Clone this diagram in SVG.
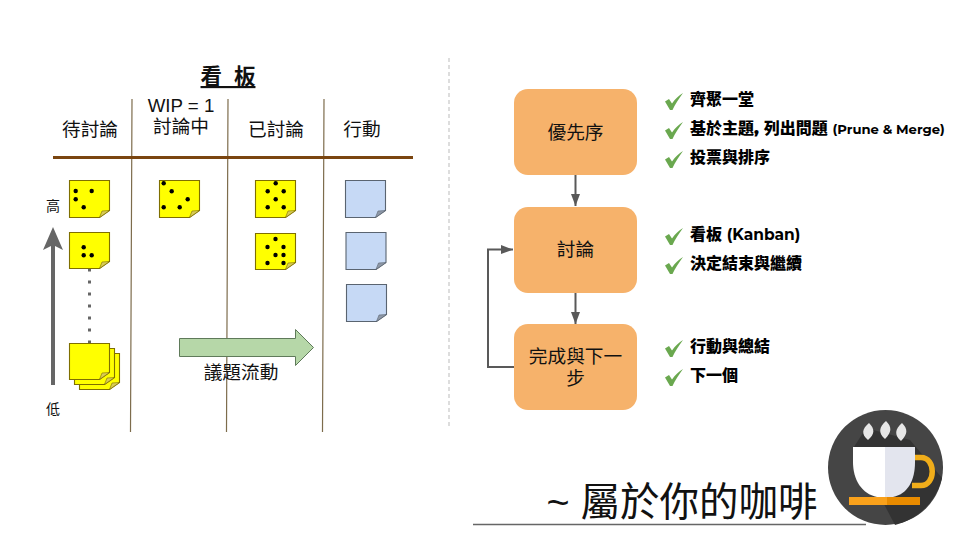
<svg xmlns="http://www.w3.org/2000/svg" width="960" height="540" viewBox="0 0 960 540">
<style>
text{font-family:"Liberation Sans","Noto Sans CJK TC",sans-serif;fill:#111;text-anchor:middle}
.k{font-size:18.700px}
.b{font-family:"Montserrat","Noto Sans CJK TC","Liberation Sans",sans-serif;font-size:16px;font-weight:900;text-anchor:start;fill:#000}
.l{font-weight:700}
.col{stroke:#7d6c4c;stroke-width:1.200;fill:none}
.y{fill:#ffff00;stroke:#7f6f00;stroke-width:1.100}
.bl{fill:#c6d9f5;stroke:#5a6470;stroke-width:1.100}
.fy{fill:#d8cc55;stroke:#7f6f00;stroke-width:.6}
.fb{fill:#8f99a8;stroke:#5a6470;stroke-width:.6}
.d{fill:#000}
.n{fill:#f6b26b}
.c{fill:none;stroke:#595959;stroke-width:2}
</style>
<defs>
<marker id="ah" markerUnits="userSpaceOnUse" markerWidth="12" markerHeight="12" refX="12" refY="6" orient="auto"><path d="M0,1.500 L12,6 L0,10.500 Z" fill="#595959"/></marker>
<path id="ny" d="M0,0 H40 V30 L30,37 H0 Z"/>
<path id="ny2" d="M0,0 H40 V29 L30,36 H0 Z"/>
<path id="check" d="M0,8.500 L4,6 L7,10.500 C10,6 14,2.500 18,0 C14,6 10,11 7.500,17 L5,17 Z" fill="#6aa84f"/>
</defs>
<g id="title"><text x="228" y="84" style="font-size:21.500px;font-weight:700;text-decoration:underline" xml:space="preserve">看  板</text></g>
<g id="board-lines">
<path class="col" d="M132,99L130.500,432M228,99L226.500,432M324,99L322.500,432"/>
<path d="M53,157.500H413" stroke="#7a4510" stroke-width="3" fill="none"/>
<path d="M449,58V428" stroke="#bbb" stroke-width="1" stroke-dasharray="4 3" fill="none"/>
</g>
<g id="headers">
<text class="k" x="90" y="136">待討論</text>
<text class="k" x="181" y="112">WIP = 1</text>
<text class="k" x="181" y="133">討論中</text>
<text class="k" x="276" y="136">已討論</text>
<text class="k" x="362" y="136">行動</text>
</g>
<g id="priority">
<path d="M53,385V238" stroke="#666" stroke-width="4" fill="none"/>
<path d="M43,250L53,227L63,250L53,245Z" fill="#666"/>
<text x="53" y="211" style="font-size:14px">高</text>
<text x="53" y="414" style="font-size:14px">低</text>
<path d="M89.500,268.500V343" stroke="#666" stroke-width="3" stroke-dasharray="3 9" fill="none"/>
</g>
<g id="note-a1"><use href="#ny" x="69.500" y="180.500" class="y"/><path class="fy" d="M109.500,210.500L99.500,217.500L102,211Z"/><circle class="d" cx="75.700" cy="191" r="2.200"/><circle class="d" cx="91.700" cy="191" r="2.200"/><circle class="d" cx="75.700" cy="199.300" r="2.200"/><circle class="d" cx="83.700" cy="207.300" r="2.200"/></g>
<g id="note-a2"><use href="#ny2" x="69.500" y="232.500" class="y"/><path class="fy" d="M109.500,261.500L99.500,268.500L102,262Z"/><circle class="d" cx="83.700" cy="247.300" r="2.200"/><circle class="d" cx="83.700" cy="255.300" r="2.200"/><circle class="d" cx="91.700" cy="255.300" r="2.200"/></g>
<g id="note-stack">
<use href="#ny2" x="79.500" y="353.500" class="y"/><path class="fy" d="M119.500,382.500L109.500,389.500L112,383Z"/>
<use href="#ny2" x="74.500" y="348.500" class="y"/><path class="fy" d="M114.500,377.500L104.500,384.500L107,378Z"/>
<use href="#ny2" x="69.500" y="343.500" class="y"/><path class="fy" d="M109.500,372.500L99.500,379.500L102,373Z"/>
</g>
<g id="note-b1"><use href="#ny" x="159.500" y="180.500" class="y"/><path class="fy" d="M199.500,210.500L189.500,217.500L192,211Z"/><circle class="d" cx="163.700" cy="183.300" r="2.200"/><circle class="d" cx="171.700" cy="191.300" r="2.200"/><circle class="d" cx="187.700" cy="199.300" r="2.200"/><circle class="d" cx="163.700" cy="207.300" r="2.200"/><circle class="d" cx="179.700" cy="207.300" r="2.200"/></g>
<g id="note-c1"><use href="#ny" x="255.500" y="180.500" class="y"/><path class="fy" d="M295.500,210.500L285.500,217.500L288,211Z"/><circle class="d" cx="275.700" cy="183.300" r="2.200"/><circle class="d" cx="267.700" cy="191.300" r="2.200"/><circle class="d" cx="283.700" cy="191.300" r="2.200"/><circle class="d" cx="275.700" cy="199.300" r="2.200"/><circle class="d" cx="267.700" cy="207.300" r="2.200"/><circle class="d" cx="283.700" cy="207.300" r="2.200"/></g>
<g id="note-c2"><use href="#ny2" x="255.500" y="233.500" class="y"/><path class="fy" d="M295.500,262.500L285.500,269.500L288,263Z"/><circle class="d" cx="275.500" cy="239" r="2.200"/><circle class="d" cx="267.500" cy="247" r="2.200"/><circle class="d" cx="283.500" cy="247" r="2.200"/><circle class="d" cx="275.500" cy="255" r="2.200"/><circle class="d" cx="283.500" cy="255" r="2.200"/><circle class="d" cx="267.500" cy="263" r="2.200"/><circle class="d" cx="283.500" cy="263" r="2.200"/></g>
<g id="note-d1"><use href="#ny" x="345.500" y="180.500" class="bl"/><path class="fb" d="M385.500,210.500L375.500,217.500L378,211Z"/></g>
<g id="note-d2"><use href="#ny" x="346" y="232.500" class="bl"/><path class="fb" d="M386,262.500L376,269.500L378.500,263Z"/></g>
<g id="note-d3"><use href="#ny" x="346.500" y="284.500" class="bl"/><path class="fb" d="M386.500,314.500L376.500,321.500L379,315Z"/></g>
<g id="flow-arrow">
<path d="M179.500,338.500H295.500V329.500L313.500,347.500L295.500,365.500V356.500H179.500Z" fill="#b6d7a8" stroke="#5f7a5a" stroke-width="1"/>
<text class="k" x="241" y="379">議題流動</text>
</g>
<g id="connectors">
<path class="c" d="M575.500,175V206" marker-end="url(#ah)"/>
<path class="c" d="M575.500,293V324" marker-end="url(#ah)"/>
<path class="c" d="M514,367H488V249.500H513" marker-end="url(#ah)"/>
</g>
<g id="node-1"><rect class="n" x="514" y="89" width="123" height="86" rx="14"/><text class="k" x="575.500" y="139">優先序</text></g>
<g id="node-2"><rect class="n" x="514" y="207" width="123" height="86" rx="14"/><text class="k" x="575.500" y="256">討論</text></g>
<g id="node-3"><rect class="n" x="514" y="324" width="123" height="86" rx="14"/><text class="k" x="575.500" y="363">完成與下一</text><text class="k" x="575.500" y="385">步</text></g>
<g id="bullets">
<use href="#check" x="665" y="93"/><text class="b" x="690" y="105">齊聚一堂</text>
<use href="#check" x="665" y="122"/><text class="b" x="690" y="134">基於主題, 列出問題 <tspan class="l" style="font-size:13.200px">(Prune &amp; Merge)</tspan></text>
<use href="#check" x="665" y="151"/><text class="b" x="690" y="163">投票與排序</text>
<use href="#check" x="665" y="228"/><text class="b" x="690" y="240">看板 <tspan class="l" style="font-size:15.500px">(Kanban)</tspan></text>
<use href="#check" x="665" y="257"/><text class="b" x="690" y="269">決定結束與繼續</text>
<use href="#check" x="665" y="340"/><text class="b" x="690" y="352">行動與總結</text>
<use href="#check" x="665" y="369"/><text class="b" x="690" y="381">下一個</text>
</g>
<g id="brand">
<path d="M473,524.500H866" stroke="#666" stroke-width="1.500" fill="none"/>
<text x="682" y="516" style="font-size:39.500px">~ 屬於你的咖啡</text>
<circle cx="885.500" cy="467.500" r="57.500" fill="#454545"/>
<path d="M854,447L866,428L910,440L942,478C935,505 915,520 895,525Z" fill="#333"/>
<path d="M914,457.500H921C936,457.500 936,485.500 921,485.500H912" fill="none" stroke="#f0ad1a" stroke-width="5.500"/>
<path d="M853,447H885V497H877C862,494 853,480 853,462Z" fill="#fff"/>
<path d="M885,447H915V462C915,480 908,494 893,497H885Z" fill="#e3e5ee"/>
<rect x="849" y="497" width="38" height="8" fill="#f9a11b"/><rect x="887" y="497" width="33" height="8" fill="#e88b00"/>
<path d="M869,423C875,429 875,434 868,440C861,434 862,429 869,423ZM886,421C892,427 892,432 885,439C878,433 879,427 886,421ZM902,423C908,429 908,434 901,441C894,435 895,429 902,423Z" fill="#e6e6e6"/>
</g>
</svg>
